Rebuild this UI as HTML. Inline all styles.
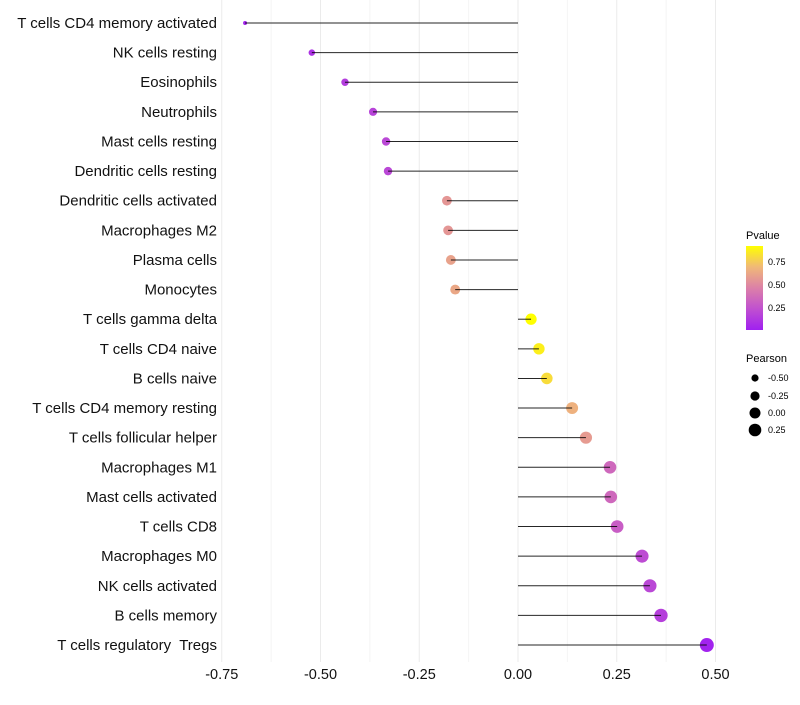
<!DOCTYPE html>
<html><head><meta charset="utf-8"><style>
body{margin:0;background:#fff;font-family:"Liberation Sans",Arial,sans-serif}
</style></head><body>
<svg id="chart" width="800" height="700" xmlns="http://www.w3.org/2000/svg">
<defs><linearGradient id="pg" x1="0" y1="1" x2="0" y2="0">
<stop offset="0" stop-color="#a020f0"/><stop offset="0.25" stop-color="#c050d0"/><stop offset="0.5" stop-color="#dc80a8"/><stop offset="0.75" stop-color="#f0b878"/><stop offset="1" stop-color="#ffff00"/></linearGradient></defs>
<g id="grid"></g><g id="marks"></g><g id="ylabels"></g><g id="xlabels"></g>
<g font-size="10">
<text x="746" y="239" font-size="11">Pvalue</text>
<rect x="746" y="246" width="17" height="84" fill="url(#pg)"/>
<text x="768" y="265" font-size="9">0.75</text><text x="768" y="288" font-size="9">0.50</text><text x="768" y="311" font-size="9">0.25</text>
<text x="746" y="362" font-size="11">Pearson</text>
<circle cx="755" cy="378" r="3.6"/><text x="768" y="381" font-size="9">-0.50</text>
<circle cx="755" cy="396" r="4.6"/><text x="768" y="399" font-size="9">-0.25</text>
<circle cx="755" cy="413" r="5.5"/><text x="768" y="416" font-size="9">0.00</text>
<circle cx="755" cy="430" r="6.3"/><text x="768" y="433" font-size="9">0.25</text>
</g>
</svg>
<script>
const categories=["T cells CD4 memory activated","NK cells resting","Eosinophils","Neutrophils","Mast cells resting","Dendritic cells resting","Dendritic cells activated","Macrophages M2","Plasma cells","Monocytes","T cells gamma delta","T cells CD4 naive","B cells naive","T cells CD4 memory resting","T cells follicular helper","Macrophages M1","Mast cells activated","T cells CD8","Macrophages M0","NK cells activated","B cells memory","T cells regulatory\u00a0 Tregs"];
const pearson=[-0.691,-0.522,-0.438,-0.367,-0.334,-0.329,-0.180,-0.177,-0.170,-0.159,0.033,0.053,0.073,0.137,0.172,0.233,0.235,0.251,0.314,0.334,0.362,0.478];
const pvalue=[0.04,0.1,0.15,0.18,0.2,0.2,0.55,0.55,0.6,0.62,0.91,0.86,0.8,0.66,0.57,0.35,0.35,0.3,0.22,0.2,0.16,0.03];
const ticks=[-0.75,-0.5,-0.25,0,0.25,0.5];
const tickLabels=["-0.75","-0.50","-0.25","0.00","0.25","0.50"];
const NS="http://www.w3.org/2000/svg";
const x=v=>518+v*395, y=i=>23+i*29.62;
const r=v=>Math.sqrt(4+Math.max(0,v+0.69)*38.5);
function lerp(a,b,t){return a.map((c,i)=>Math.round(c+(b[i]-c)*t));}
const stops=[[160,32,240],[192,80,208],[220,128,168],[240,184,120],[255,255,0]];
function col(p){let t=Math.max(0,Math.min(1,(p-0.016)/(0.91-0.016)))*4;let i=Math.min(3,Math.floor(t));const c=lerp(stops[i],stops[i+1],t-i);return `rgb(${c})`;}
function mk(tag,at,parent){const e=document.createElementNS(NS,tag);for(const k in at)e.setAttribute(k,at[k]);parent.appendChild(e);return e;}
const grid=document.getElementById('grid'),marks=document.getElementById('marks'),yl=document.getElementById('ylabels'),xl=document.getElementById('xlabels');
for(let v=-0.75;v<=0.5001;v+=0.125){const g=mk('line',{x1:x(v),x2:x(v),y1:0,y2:662,stroke:Math.abs(v*4-Math.round(v*4))<0.01?'#ebebeb':'#f4f4f4','stroke-width':1},grid);

}
ticks.forEach((t,i)=>{const e=mk('text',{x:x(t),y:679,'text-anchor':'middle','font-size':14.5,fill:'#111'},xl);e.textContent=tickLabels[i];

});
categories.forEach((c,i)=>{
const t=mk('text',{x:217,y:y(i)+5,'text-anchor':'end','font-size':15,fill:'#111'},yl);t.textContent=c;


const d=mk('circle',{cx:x(pearson[i]),cy:y(i),r:r(pearson[i]),fill:col(pvalue[i])},marks);


const l=mk('line',{x1:x(0),x2:x(pearson[i]),y1:y(i),y2:y(i),stroke:'#000','stroke-width':1,'stroke-opacity':0.85},marks);


});
</script>
</body></html>
